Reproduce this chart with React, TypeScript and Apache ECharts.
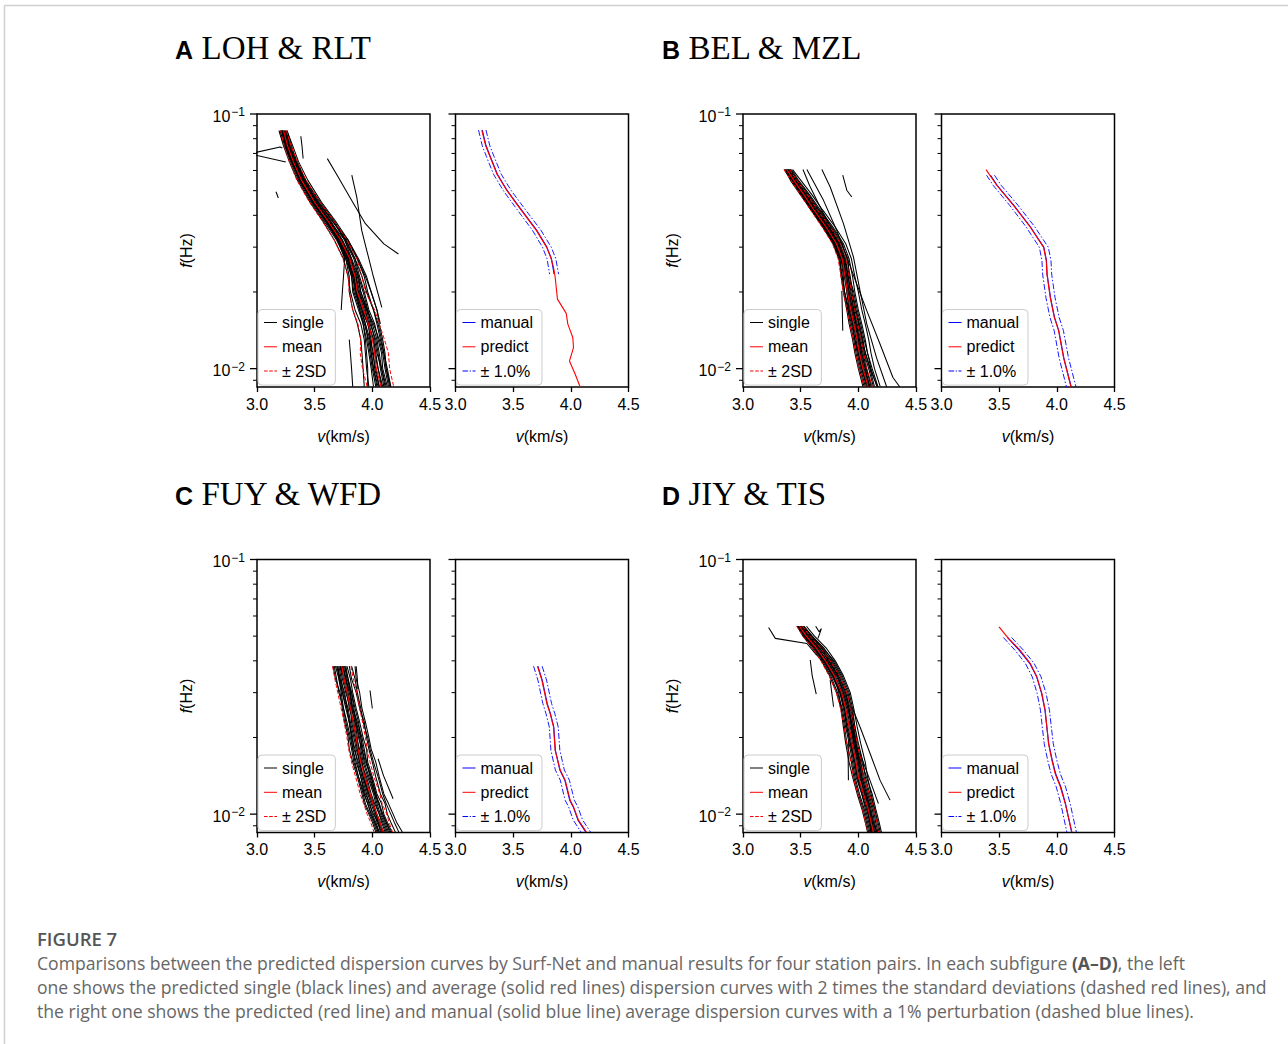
import { useEffect, useRef } from 'react';
import * as echarts from 'echarts';

// ---------------- axis / tick values ----------------
const vMin = 3.0;
const vMax = 4.5;
const vStep = 0.5;
const fMin = 0.00847;
const fMax = 0.1;
const yMajorTicks = [0.01, 0.1];
const yMinorTicks = [0.009, 0.02, 0.03, 0.04, 0.05, 0.06, 0.07, 0.08, 0.09];

// ---------------- text ----------------
const panelLetters = ['A', 'B', 'C', 'D'];
const stationPairs = ['LOH & RLT', 'BEL & MZL', 'FUY & WFD', 'JIY & TIS'];
const leftLegend = ['single', 'mean', '± 2SD'];
const rightLegend = ['manual', 'predict', '± 1.0%'];
const captionTitle = 'FIGURE 7';
const captionLines = [
  'Comparisons between the predicted dispersion curves by Surf-Net and manual results for four station pairs. In each subfigure {b|(A–D)}, the left',
  'one shows the predicted single (black lines) and average (solid red lines) dispersion curves with 2 times the standard deviations (dashed red lines), and',
  'the right one shows the predicted (red line) and manual (solid blue line) average dispersion curves with a 1% perturbation (dashed blue lines).',
];

// ---------------- Panel A: LOH & RLT ----------------
const fA = [0.086, 0.075, 0.065, 0.055, 0.045, 0.038, 0.032, 0.027, 0.023, 0.02, 0.017, 0.015, 0.013, 0.0115, 0.01, 0.0085];
const meanA = [3.23, 3.265, 3.315, 3.385, 3.5, 3.615, 3.725, 3.805, 3.85, 3.87, 3.925, 3.965, 4.0, 4.02, 4.035, 4.075];
const sdLowA = [3.205, 3.235, 3.28, 3.345, 3.455, 3.565, 3.67, 3.745, 3.79, 3.8, 3.83, 3.875, 3.9, 3.895, 3.915, 3.955];
const sdHighA = [3.255, 3.295, 3.35, 3.425, 3.545, 3.665, 3.78, 3.865, 3.91, 3.94, 4.02, 4.06, 4.105, 4.14, 4.15, 4.185];
const singlesA = [
  [3.2, 3.24, 3.29, 3.36, 3.47, 3.58, 3.69, 3.77, 3.82, 3.84, 3.89, 3.93, 3.97, 3.99, 4.01, 4.05],
  [3.21, 3.25, 3.3, 3.37, 3.49, 3.6, 3.71, 3.79, 3.84, 3.86, 3.91, 3.96, 3.99, 4.0, 4.03, 4.06],
  [3.24, 3.28, 3.34, 3.4, 3.52, 3.64, 3.74, 3.82, 3.88, 3.9, 3.95, 3.98, 4.03, 4.05, 4.07, 4.1],
  [3.25, 3.29, 3.35, 3.42, 3.54, 3.66, 3.77, 3.85, 3.89, 3.93, 3.97, 4.02, 4.05, 4.08, 4.09, 4.13],
  [3.22, 3.26, 3.31, 3.39, 3.51, 3.62, 3.73, 3.8, 3.86, 3.87, 3.92, 3.96, 4.01, 4.02, 4.05, 4.08],
  [3.19, 3.23, 3.28, 3.35, 3.46, 3.57, 3.67, 3.75, 3.79, 3.81, 3.85, 3.9, 3.93, 3.94, 3.95, 3.97],
  [3.26, 3.31, 3.36, 3.44, 3.56, 3.68, 3.79, 3.87, 3.93, 3.96, 4.01, 4.05, 4.08, 4.1, 4.12, 4.15],
  [3.23, 3.27, 3.32, 3.38, 3.48, 3.6, 3.7, 3.78, 3.83, 3.85, 3.9, 3.94, 3.98, 4.01, 4.02, 4.06],
  [3.24, 3.27, 3.33, 3.4, 3.51, 3.63, 3.76, 3.84, 3.88, 3.92, 3.96, 3.99, 4.02, 4.04, 4.08, 4.11],
  [3.21, 3.25, 3.3, 3.38, 3.5, 3.62, 3.74, 3.81, 3.85, 3.88, 3.93, 3.97, 4.01, 4.03, 4.05, 4.09],
  [3.22, 3.25, 3.31, 3.37, 3.48, 3.59, 3.7, 3.77, 3.8, 3.8, 3.83, 3.87, 3.9, 3.91, 3.92, 3.93],
  [3.25, 3.28, 3.33, 3.41, 3.53, 3.65, 3.78, 3.87, 3.94, 3.99, 4.04, 4.06, 4.09, 4.11, 4.12, 4.16],
  [3.22, 3.26, 3.31, 3.38, 3.49, 3.6, 3.7, 3.76, 3.75, 3.74, 3.73, null, null, null, null, null],
  [3.23, 3.28, 3.34, 3.42, 3.55, 3.67, 3.77, 3.85, 3.91, 3.95, 4.01, 4.04, 4.07, 4.1, 4.13, 4.16],
  [3.24, 3.28, 3.32, 3.38, 3.49, 3.61, 3.72, 3.8, 3.86, 3.89, 3.94, 3.97, 3.98, 3.99, 4.01, 4.04],
  [null, null, null, null, null, 3.66, 3.79, 3.88, 3.95, 3.99, 4.04, 4.07, null, null, null, null],
  [null, null, null, null, null, null, null, null, null, null, null, null, 3.8, 3.81, 3.82, 3.83],
  [3.2, 3.24, 3.3, 3.37, 3.49, 3.61, 3.73, 3.81, 3.87, 3.9, 3.96, 4.0, 4.04, 4.06, 4.08, 4.12],
  [3.22, 3.27, 3.33, 3.4, 3.52, 3.63, 3.73, 3.79, 3.83, 3.86, 3.91, 3.94, 3.96, 3.98, 4.0, 4.03],
  [3.26, 3.3, 3.34, 3.41, 3.51, 3.62, 3.71, 3.78, 3.82, 3.83, 3.88, 3.92, 3.94, 3.95, 3.96, 3.96],
  [3.21, 3.26, 3.32, 3.39, 3.5, 3.61, 3.72, 3.79, 3.84, 3.88, 3.95, 4.01, 4.06, 4.09, 4.11, 4.14],
  [3.23, 3.27, 3.32, 3.4, 3.53, 3.66, 3.76, 3.82, 3.85, 3.86, 3.89, 3.92, 3.95, 3.97, 3.99, 4.01],
];
const outliersA = [
  [[2.98, 0.0705], [3.2, 0.0742], [3.22, 0.0735]],
  [[2.98, 0.069], [3.25, 0.0648]],
  [[3.165, 0.0495], [3.185, 0.0468]],
  [[3.38, 0.0818], [3.39, 0.075], [3.4, 0.0669]],
  [[3.61, 0.0668], [3.7, 0.057], [3.82, 0.0458], [3.94, 0.0371], [4.1, 0.0309], [4.226, 0.0282]],
  [[3.822, 0.0575], [3.865, 0.0472], [3.908, 0.0349], [3.952, 0.0291], [4.01, 0.0229], [4.082, 0.0174]],
];
const fPredA = [0.0865, 0.075, 0.0679, 0.058, 0.0501, 0.045, 0.04, 0.035, 0.03, 0.027, 0.025, 0.0229, 0.01875, 0.01648, 0.01496, 0.01325, 0.0121, 0.01071, 0.0095, 0.00847];
const predictA = [3.228, 3.262, 3.3, 3.36, 3.445, 3.52, 3.604, 3.7, 3.79, 3.83, 3.85, 3.864, 3.884, 3.96, 3.974, 4.017, 4.023, 3.988, 4.038, 4.081];
const fManA = [0.0865, 0.075, 0.0679, 0.058, 0.0501, 0.045, 0.04, 0.035, 0.03, 0.027, 0.0235];
const manualA = [3.232, 3.265, 3.302, 3.363, 3.448, 3.523, 3.607, 3.703, 3.792, 3.832, 3.855];

// ---------------- Panel B: BEL & MZL ----------------
const fB = [0.0605, 0.055, 0.048, 0.042, 0.036, 0.031, 0.027, 0.023, 0.02, 0.017, 0.015, 0.013, 0.0115, 0.01, 0.0085];
const meanB = [3.38, 3.44, 3.53, 3.615, 3.72, 3.81, 3.86, 3.885, 3.905, 3.935, 3.96, 3.99, 4.01, 4.04, 4.085];
const sdLowB = [3.355, 3.415, 3.5, 3.585, 3.685, 3.775, 3.825, 3.85, 3.87, 3.9, 3.925, 3.955, 3.975, 4.005, 4.05];
const sdHighB = [3.405, 3.465, 3.56, 3.645, 3.755, 3.845, 3.895, 3.92, 3.94, 3.97, 3.995, 4.025, 4.045, 4.075, 4.12];
const singlesB = [
  [3.36, 3.42, 3.51, 3.59, 3.69, 3.78, 3.83, 3.86, 3.88, 3.91, 3.93, 3.96, 3.98, 4.01, 4.05],
  [3.37, 3.43, 3.52, 3.6, 3.71, 3.79, 3.85, 3.87, 3.88, 3.92, 3.95, 3.97, 4.0, 4.03, 4.07],
  [3.39, 3.45, 3.54, 3.63, 3.74, 3.83, 3.87, 3.9, 3.92, 3.95, 3.98, 4.0, 4.02, 4.05, 4.1],
  [3.4, 3.46, 3.55, 3.64, 3.75, 3.84, 3.89, 3.91, 3.94, 3.96, 3.99, 4.02, 4.05, 4.07, 4.12],
  [3.38, 3.44, 3.53, 3.61, 3.71, 3.8, 3.86, 3.88, 3.9, 3.93, 3.96, 3.99, 4.01, 4.04, 4.08],
  [3.41, 3.47, 3.57, 3.66, 3.77, 3.86, 3.9, 3.93, 3.95, 3.98, 4.01, 4.04, 4.06, 4.1, 4.14],
  [3.37, 3.42, 3.51, 3.6, 3.7, 3.79, 3.84, 3.85, 3.87, 3.9, 3.92, 3.95, 3.97, 4.0, 4.04],
  [3.39, 3.44, 3.53, 3.62, 3.73, 3.82, 3.87, 3.89, 3.91, 3.94, 3.97, 4.0, 4.03, 4.06, 4.1],
  [3.42, 3.48, 3.58, 3.67, 3.78, 3.87, 3.92, 3.95, 3.97, 4.0, 4.03, 4.06, 4.08, 4.11, 4.16],
  [3.38, 3.43, 3.52, 3.61, 3.72, 3.81, 3.86, 3.88, 3.91, 3.94, 3.96, 3.98, 4.0, 4.03, 4.08],
  [3.4, 3.45, 3.55, 3.63, 3.74, 3.83, 3.88, 3.91, 3.93, 3.96, 3.98, 4.01, 4.04, 4.07, 4.11],
  [3.36, 3.41, 3.5, 3.59, 3.7, 3.78, 3.84, 3.86, 3.88, 3.91, 3.94, 3.97, 3.99, 4.02, 4.06],
  [3.43, 3.5, 3.6, 3.69, 3.8, 3.89, 3.94, 3.97, 4.0, 4.03, 4.06, 4.09, 4.11, 4.14, 4.19],
  [3.39, 3.45, 3.54, 3.62, 3.73, 3.82, 3.87, 3.9, 3.92, 3.95, 3.98, 4.01, 4.03, 4.06, 4.09],
  [3.37, 3.44, 3.52, 3.62, 3.72, 3.8, 3.85, 3.89, 3.9, 3.92, 3.95, 3.99, 4.02, 4.04, 4.09],
  [3.41, 3.46, 3.56, 3.65, 3.76, 3.85, 3.91, 3.92, 3.94, 3.97, 4.0, 4.03, 4.05, 4.09, 4.13],
  [3.38, 3.45, 3.55, 3.65, 3.75, 3.83, 3.88, 3.92, 3.96, 3.99, 4.02, 4.05, 4.08, 4.12, 4.17],
];
const outliersB = [
  [[3.554, 0.0605], [3.698, 0.0458], [3.813, 0.0349], [3.9, 0.0274], [3.986, 0.0215], [4.073, 0.0169], [4.188, 0.0125], [4.3, 0.00923], [4.36, 0.00847]],
  [[3.684, 0.0605], [3.756, 0.0517], [3.871, 0.0371], [3.958, 0.0274], [4.015, 0.0202], [4.073, 0.015], [4.159, 0.011], [4.246, 0.00847]],
  [[3.865, 0.0575], [3.9, 0.0502], [3.943, 0.0472]],
  [[3.857, 0.0202], [3.861, 0.017], [3.865, 0.0141]],
  [[3.52, 0.0605], [3.58, 0.052], [3.67, 0.043], [3.76, 0.036], [3.84, 0.03], [3.9, 0.025], [3.94, 0.02], [3.99, 0.016], [4.05, 0.012], [4.12, 0.0095], [4.17, 0.00847]],
];
const fPredB = [0.0605, 0.0525, 0.0438, 0.036, 0.0328, 0.03, 0.0266, 0.0235, 0.019, 0.0159, 0.0141, 0.011, 0.00847];
const predictB = [3.386, 3.479, 3.624, 3.769, 3.827, 3.885, 3.908, 3.914, 3.943, 3.978, 4.015, 4.059, 4.123];
const fManB = [0.0575, 0.0525, 0.0438, 0.036, 0.0328, 0.03, 0.0266, 0.0235, 0.019, 0.0159, 0.0141, 0.011, 0.00847];
const manualB = [3.425, 3.482, 3.627, 3.772, 3.83, 3.887, 3.91, 3.916, 3.945, 3.98, 4.017, 4.061, 4.125];

// ---------------- Panel C: FUY & WFD ----------------
const fC = [0.0381, 0.034, 0.03, 0.026, 0.023, 0.02, 0.018, 0.016, 0.014, 0.012, 0.011, 0.01, 0.0093, 0.0085];
const meanC = [3.735, 3.755, 3.782, 3.81, 3.835, 3.86, 3.875, 3.9, 3.935, 3.98, 4.005, 4.04, 4.065, 4.095];
const sdLowC = [3.655, 3.675, 3.7, 3.73, 3.755, 3.78, 3.795, 3.82, 3.855, 3.895, 3.925, 3.955, 3.985, 4.015];
const sdHighC = [3.815, 3.835, 3.865, 3.89, 3.915, 3.94, 3.955, 3.98, 4.015, 4.065, 4.085, 4.125, 4.145, 4.175];
const singlesC = [
  [3.66, 3.68, 3.72, 3.74, 3.76, 3.79, 3.8, 3.83, 3.87, 3.91, 3.93, 3.97, 4.0, 4.03],
  [3.68, 3.71, 3.73, 3.75, 3.78, 3.81, 3.83, 3.85, 3.88, 3.93, 3.96, 3.99, 4.02, 4.06],
  [3.7, 3.72, 3.76, 3.78, 3.8, 3.83, 3.84, 3.88, 3.91, 3.95, 3.97, 4.01, 4.05, 4.07],
  [3.72, 3.74, 3.77, 3.81, 3.82, 3.85, 3.87, 3.89, 3.92, 3.97, 4.01, 4.03, 4.06, 4.1],
  [3.74, 3.77, 3.79, 3.82, 3.85, 3.87, 3.88, 3.9, 3.95, 3.99, 4.02, 4.06, 4.08, 4.11],
  [3.76, 3.78, 3.82, 3.84, 3.86, 3.9, 3.91, 3.93, 3.97, 4.02, 4.04, 4.07, 4.1, 4.13],
  [3.78, 3.81, 3.83, 3.86, 3.89, 3.92, 3.95, 3.96, 4.0, 4.04, 4.08, 4.1, 4.13, 4.17],
  [3.8, 3.82, 3.86, 3.89, 3.93, 3.95, 3.97, 4.0, 4.03, 4.07, 4.11, 4.13, 4.16, 4.2],
  [3.69, 3.72, 3.74, 3.78, 3.8, 3.82, 3.85, 3.87, 3.9, 3.94, 3.98, 4.0, 4.03, 4.06],
  [3.73, 3.75, 3.78, 3.8, 3.84, 3.86, 3.87, 3.91, 3.94, 3.98, 4.01, 4.04, 4.07, 4.09],
  [3.75, 3.77, 3.81, 3.82, 3.85, 3.89, 3.9, 3.92, 3.96, 4.01, 4.03, 4.06, 4.09, 4.12],
  [3.71, 3.73, 3.75, 3.79, 3.81, 3.84, 3.86, 3.89, 3.92, 3.96, 3.99, 4.02, 4.04, 4.08],
  [3.77, 3.79, 3.82, 3.85, 3.88, 3.9, 3.92, 3.95, 3.98, 4.02, 4.06, 4.08, 4.11, 4.14],
  [3.85, 3.86, 3.89, 3.91, 3.94, 3.97, 3.99, 4.03, 4.06, 4.1, 4.14, 4.18, 4.21, 4.26],
  [3.67, 3.69, 3.71, 3.75, 3.77, 3.8, 3.82, 3.84, 3.88, 3.92, 3.94, 3.98, 4.01, 4.04],
  [3.82, 3.85, 3.87, 3.9, 3.92, 3.96, 3.98, 4.01, 4.05, 4.09, 4.12, 4.16, 4.19, 4.23],
  [3.74, 3.77, 3.8, 3.83, 3.86, 3.88, 3.91, 3.94, 3.99, 4.03, 4.05, 4.09, 4.12, 4.15],
  [3.7, 3.71, 3.74, 3.77, 3.8, 3.82, 3.83, 3.86, 3.9, 3.93, 3.96, 3.99, 4.02, 4.05],
  [3.72, 3.76, 3.78, 3.81, 3.83, 3.86, 3.89, 3.91, 3.93, 3.97, 4.0, 4.03, 4.05, 4.09],
  [3.76, 3.79, 3.81, 3.83, 3.87, 3.91, 3.93, 3.95, 3.99, 4.03, 4.06, 4.09, 4.12, 4.16],
];
const outliersC = [
  [[3.98, 0.0306], [4.0, 0.026]],
  [[4.05, 0.0165], [4.096, 0.0142], [4.18, 0.0115]],
  [[3.86, 0.0381], [3.87, 0.034], [3.875, 0.031]],
];
const fPredC = [0.0381, 0.0336, 0.0272, 0.0248, 0.022, 0.0178, 0.0149, 0.0136, 0.01135, 0.0107, 0.00947, 0.0085];
const predictC = [3.711, 3.749, 3.792, 3.821, 3.85, 3.864, 3.908, 3.951, 3.994, 4.023, 4.066, 4.135];
const fManC = [0.0381, 0.0336, 0.0272, 0.0248, 0.022, 0.0178, 0.0149, 0.0136, 0.01135, 0.0107, 0.00947, 0.0085];
const manualC = [3.714, 3.752, 3.795, 3.823, 3.852, 3.866, 3.905, 3.948, 3.99, 4.02, 4.062, 4.13];

// ---------------- Panel D: JIY & TIS ----------------
const fD = [0.0547, 0.05, 0.045, 0.04, 0.035, 0.03, 0.026, 0.022, 0.019, 0.016, 0.014, 0.012, 0.0105, 0.0093, 0.0085];
const meanD = [3.49, 3.55, 3.635, 3.715, 3.79, 3.855, 3.89, 3.92, 3.945, 3.98, 4.0, 4.045, 4.085, 4.11, 4.13];
const sdLowD = [3.465, 3.52, 3.6, 3.675, 3.745, 3.81, 3.845, 3.875, 3.9, 3.935, 3.955, 3.995, 4.035, 4.06, 4.085];
const sdHighD = [3.515, 3.58, 3.67, 3.755, 3.835, 3.9, 3.935, 3.965, 3.99, 4.025, 4.045, 4.095, 4.135, 4.16, 4.175];
const singlesD = [
  [3.47, 3.52, 3.6, 3.68, 3.75, 3.81, 3.85, 3.88, 3.9, 3.94, 3.96, 4.0, 4.04, 4.07, 4.09],
  [3.48, 3.54, 3.62, 3.7, 3.77, 3.84, 3.87, 3.9, 3.93, 3.96, 3.98, 4.03, 4.07, 4.1, 4.11],
  [3.5, 3.56, 3.65, 3.73, 3.81, 3.87, 3.91, 3.94, 3.96, 4.0, 4.02, 4.06, 4.1, 4.12, 4.14],
  [3.51, 3.57, 3.66, 3.75, 3.83, 3.89, 3.93, 3.96, 3.98, 4.02, 4.04, 4.08, 4.12, 4.14, 4.16],
  [3.49, 3.55, 3.64, 3.72, 3.79, 3.85, 3.89, 3.92, 3.95, 3.98, 4.0, 4.04, 4.08, 4.11, 4.13],
  [3.52, 3.59, 3.68, 3.77, 3.84, 3.9, 3.94, 3.97, 4.0, 4.04, 4.06, 4.1, 4.14, 4.16, 4.18],
  [3.48, 3.53, 3.61, 3.69, 3.76, 3.82, 3.86, 3.89, 3.92, 3.95, 3.97, 4.01, 4.05, 4.08, 4.1],
  [3.5, 3.55, 3.63, 3.71, 3.78, 3.85, 3.88, 3.91, 3.94, 3.97, 3.99, 4.05, 4.09, 4.11, 4.12],
  [3.53, 3.6, 3.7, 3.78, 3.85, 3.91, 3.94, 3.96, 3.98, 4.01, 4.03, 4.07, 4.1, 4.13, 4.15],
  [3.49, 3.56, 3.64, 3.73, 3.8, 3.86, 3.9, 3.93, 3.96, 3.99, 4.01, 4.06, 4.09, 4.12, 4.14],
  [3.5, 3.57, 3.67, 3.74, 3.82, 3.88, 3.92, 3.95, 3.97, 4.01, 4.03, 4.07, 4.11, 4.13, 4.16],
  [3.47, 3.53, 3.62, 3.7, 3.78, 3.84, 3.88, 3.9, 3.93, 3.97, 3.99, 4.03, 4.06, 4.09, 4.11],
  [3.51, 3.58, 3.66, 3.76, 3.83, 3.89, 3.92, 3.94, 3.97, 4.0, 4.02, 4.05, 4.08, 4.1, 4.12],
  [3.52, 3.6, 3.68, 3.75, 3.82, 3.87, 3.91, 3.95, 3.98, 4.02, 4.05, 4.09, 4.13, 4.15, 4.17],
  [3.55, 3.62, 3.72, 3.8, 3.87, 3.93, 3.96, 3.99, 4.02, 4.06, 4.08, 4.11, 4.14, 4.17, 4.19],
  [null, null, null, 3.71, 3.79, 3.83, 3.85, 3.87, 3.89, 3.92, 3.95, 3.99, 4.03, 4.06, 4.08],
  [3.5, 3.58, 3.69, 3.79, 3.86, 3.92, 3.95, 3.97, 3.99, 4.03, 4.07, 4.12, 4.15, 4.18, 4.2],
];
const outliersD = [
  [[3.222, 0.0541], [3.28, 0.049], [3.554, 0.0468], [3.64, 0.042]],
  [[3.583, 0.0403], [3.6, 0.035], [3.635, 0.0296]],
  [[3.756, 0.0336], [3.785, 0.0264]],
  [[3.95, 0.026], [4.015, 0.022], [4.102, 0.0173], [4.188, 0.0136], [4.275, 0.01135]],
  [[4.015, 0.0173], [4.09, 0.014], [4.174, 0.011]],
  [[3.914, 0.0195], [3.912, 0.0165], [3.914, 0.0136]],
  [[3.63, 0.0547], [3.66, 0.052], [3.68, 0.0535], [3.65, 0.049]],
];
const fPredD = [0.0544, 0.049, 0.044, 0.0391, 0.0346, 0.0298, 0.0256, 0.022, 0.0189, 0.0163, 0.0144, 0.0128, 0.011, 0.0085];
const predictD = [3.499, 3.58, 3.682, 3.769, 3.827, 3.87, 3.899, 3.914, 3.928, 3.957, 3.986, 4.03, 4.073, 4.131];
const fManD = [0.0494, 0.044, 0.0391, 0.0346, 0.0298, 0.0256, 0.022, 0.0189, 0.0163, 0.0144, 0.0128, 0.011, 0.0085];
const manualD = [3.572, 3.675, 3.765, 3.825, 3.868, 3.897, 3.913, 3.93, 3.96, 3.99, 4.035, 4.075, 4.128];

// ---------------- layout (pixels) ----------------
const COL_LEFT = [257, 743];
const SUB_OFFSET = 198.5;
const ROW_TOP = [114, 559.5];
const PLOT_W = 173;
const PLOT_H = 273;
const TITLE_X = [175, 662];
const TITLE_Y = [50, 496];

const SANS = '"Liberation Sans", Arial, Helvetica, sans-serif';
const SERIF = '"Liberation Serif", "Times New Roman", serif';
const CAP = '"Open Sans", Lato, sans-serif';
const RED = '#ff0000';
const BLUE = '#0000ff';

// legend icons (13 x 1 line glyphs)
const ICON_SOLID = 'path://M0,0h13v1h-13z';
const ICON_DASH = 'path://M0,0h3.6v1h-3.6zM5.2,0h3.6v1h-3.6zM10.4,0h2.6v1h-2.6z';
const ICON_DASHDOT = 'path://M0,0h5.6v1h-5.6zM7.2,0h1.2v1h-1.2zM10,0h3v1h-3z';
const legendIcons: Record<string, string> = {
  single: ICON_SOLID, mean: ICON_SOLID, '± 2SD': ICON_DASH,
  manual: ICON_SOLID, predict: ICON_SOLID, '± 1.0%': ICON_DASHDOT,
};

const panels = [
  { freq: fA, mean: meanA, sdLow: sdLowA, sdHigh: sdHighA, singles: singlesA, outliers: outliersA, predF: fPredA, pred: predictA, manF: fManA, man: manualA },
  { freq: fB, mean: meanB, sdLow: sdLowB, sdHigh: sdHighB, singles: singlesB, outliers: outliersB, predF: fPredB, pred: predictB, manF: fManB, man: manualB },
  { freq: fC, mean: meanC, sdLow: sdLowC, sdHigh: sdHighC, singles: singlesC, outliers: outliersC, predF: fPredC, pred: predictC, manF: fManC, man: manualC },
  { freq: fD, mean: meanD, sdLow: sdLowD, sdHigh: sdHighD, singles: singlesD, outliers: outliersD, predF: fPredD, pred: predictD, manF: fManD, man: manualD },
];

function pairs(freq: number[], vel: (number | null)[]) {
  const out: number[][] = [];
  vel.forEach((v, i) => {
    if (v !== null && v !== undefined) out.push([v, freq[i]]);
  });
  return out;
}

function lineSeries(name: string, data: number[][], g: number, color: string, width: number, type: any, z: number) {
  return {
    type: 'line',
    name,
    data,
    xAxisIndex: g,
    yAxisIndex: g,
    symbol: 'none',
    showSymbol: false,
    silent: true,
    z,
    lineStyle: { color, width, type },
    itemStyle: { color },
    emphasis: { disabled: true },
  };
}

function tickSeries(g: number) {
  const data = [
    ...yMajorTicks.map((f) => [vMin, f, 1]),
    ...yMinorTicks.map((f) => [vMin, f, 0]),
  ];
  return {
    type: 'custom',
    name: 'yticks',
    xAxisIndex: g,
    yAxisIndex: g,
    silent: true,
    clip: false,
    z: 6,
    data,
    encode: { x: 0, y: 1 },
    renderItem: (_params: any, api: any) => {
      const p = api.coord([api.value(0), api.value(1)]);
      const major = api.value(2) === 1;
      const len = major ? 7 : 4;
      return {
        type: 'line',
        shape: { x1: p[0] - len, y1: p[1], x2: p[0], y2: p[1] },
        style: { stroke: '#000', lineWidth: major ? 1.3 : 1 },
      };
    },
  };
}

function yLabel(v: number) {
  const l = Math.log10(v);
  const r = Math.round(l);
  if (Math.abs(l - r) > 1e-6) return '';
  return '{b|10}{s|−' + Math.abs(r) + '}';
}

function buildOption() {
  const grids: any[] = [];
  const xAxes: any[] = [];
  const yAxes: any[] = [];
  const series: any[] = [];
  const legends: any[] = [];
  const graphics: any[] = [];

  panels.forEach((p, pi) => {
    const row = Math.floor(pi / 2);
    const col = pi % 2;
    [0, 1].forEach((sub) => {
      const g = pi * 2 + sub;
      const left = COL_LEFT[col] + sub * SUB_OFFSET;
      const top = ROW_TOP[row];
      grids.push({
        left, top, width: PLOT_W, height: PLOT_H,
        show: true, borderColor: '#000', borderWidth: 1.5,
        backgroundColor: 'transparent', containLabel: false,
        outerBoundsMode: 'none',
      });
      xAxes.push({
        gridIndex: g, type: 'value', min: vMin, max: vMax, interval: vStep,
        axisLine: { show: false },
        axisTick: { show: true, length: 5, lineStyle: { color: '#000', width: 1.3 } },
        splitLine: { show: false },
        axisLabel: { margin: 9, fontSize: 16, color: '#000', fontFamily: SANS, formatter: (v: number) => v.toFixed(1) },
        name: '{i|v}(km/s)', nameLocation: 'middle', nameGap: 41,
        nameTextStyle: {
          fontSize: 16, color: '#000', fontFamily: SANS,
          rich: { i: { fontStyle: 'italic', fontSize: 16, fontFamily: SANS, color: '#000' } },
        },
      });
      yAxes.push({
        gridIndex: g, type: 'log', logBase: 10, min: fMin, max: fMax,
        axisLine: { show: false },
        axisTick: { show: false },
        splitLine: { show: false },
        minorTick: { show: false },
        axisLabel: sub === 0 ? {
          show: true, margin: 12, color: '#000', fontFamily: SANS, formatter: yLabel,
          padding: [4, 0, 0, 0],
          rich: {
            b: { fontSize: 16, fontFamily: SANS, color: '#000', lineHeight: 20 },
            s: { fontSize: 12, fontFamily: SANS, color: '#000', lineHeight: 12, verticalAlign: 'top', padding: [0, 0, 0, 1] },
          },
        } : { show: false },
        name: sub === 0 ? '{i|f}(Hz)' : '',
        nameLocation: 'middle', nameGap: 63, nameRotate: 90,
        nameTextStyle: {
          fontSize: 16, color: '#000', fontFamily: SANS,
          rich: { i: { fontStyle: 'italic', fontSize: 16, fontFamily: SANS, color: '#000' } },
        },
      });

      if (sub === 0) {
        p.singles.forEach((s) => series.push(lineSeries('single', pairs(p.freq, s), g, '#000', 1.05, 'solid', 2)));
        p.outliers.forEach((o) => series.push(lineSeries('single', o, g, '#000', 1.05, 'solid', 2)));
        series.push(lineSeries('mean', pairs(p.freq, p.mean), g, RED, 1.1, 'solid', 3));
        series.push(lineSeries('± 2SD', pairs(p.freq, p.sdLow), g, RED, 1, [4, 2], 4));
        series.push(lineSeries('± 2SD', pairs(p.freq, p.sdHigh), g, RED, 1, [4, 2], 4));
      } else {
        series.push(lineSeries('manual', pairs(p.manF, p.man), g, BLUE, 1.1, 'solid', 2));
        series.push(lineSeries('predict', pairs(p.predF, p.pred), g, RED, 1.1, 'solid', 3));
        series.push(lineSeries('± 1.0%', pairs(p.manF, p.man.map((v) => v * 0.99)), g, BLUE, 0.9, [6, 2, 1.5, 2], 4));
        series.push(lineSeries('± 1.0%', pairs(p.manF, p.man.map((v) => v * 1.01)), g, BLUE, 0.9, [6, 2, 1.5, 2], 4));
      }
      series.push(tickSeries(g));

      const names = sub === 0 ? leftLegend : rightLegend;
      legends.push({
        left: left + 1, top: top + 195.5, orient: 'vertical',
        itemWidth: 13, itemHeight: 1.2, itemGap: 6.3,
        padding: [4, 9, 5, 6],
        borderColor: '#cccccc', borderWidth: 1, borderRadius: 4,
        backgroundColor: 'rgba(255,255,255,0.8)',
        selectedMode: false,
        itemStyle: { borderWidth: 0 },
        textStyle: { fontSize: 16, fontFamily: SANS, color: '#000', lineHeight: 18 },
        data: names.map((n) => ({ name: n, icon: legendIcons[n] })),
        z: 20,
      });
    });

    graphics.push({
      type: 'text', x: TITLE_X[col], y: TITLE_Y[row],
      style: { text: panelLetters[pi], fontSize: 25, fontWeight: 'bold', fontFamily: SANS, fill: '#000', verticalAlign: 'middle', align: 'left' },
    });
    graphics.push({
      type: 'text', x: TITLE_X[col] + 26.5, y: TITLE_Y[row] - 2.1,
      style: { text: stationPairs[pi], fontSize: 33, fontFamily: SERIF, fill: '#000', verticalAlign: 'middle', align: 'left' },
    });
  });

  // frame lines
  graphics.push({ type: 'line', shape: { x1: 4, y1: 5.5, x2: 1288, y2: 5.5 }, style: { stroke: '#d0d0d0', lineWidth: 1.5 } });
  graphics.push({ type: 'line', shape: { x1: 4.5, y1: 5, x2: 4.5, y2: 1044 }, style: { stroke: '#d0d0d0', lineWidth: 1.5 } });

  // caption
  graphics.push({
    type: 'text', x: 37, y: 938,
    style: { text: captionTitle, fontSize: 18.5, fontWeight: 600, fontFamily: CAP, fill: '#555555', verticalAlign: 'middle' },
  });
  captionLines.forEach((t, i) => {
    graphics.push({
      type: 'text', x: 37, y: 963 + i * 24,
      style: {
        text: t, fontSize: 17.6, fontFamily: CAP, fill: '#666666', verticalAlign: 'middle',
        rich: { b: { fontWeight: 'bold', fontSize: 17.6, fontFamily: CAP, fill: '#555555' } },
      },
    });
  });

  return {
    animation: false,
    backgroundColor: '#ffffff',
    grid: grids,
    xAxis: xAxes,
    yAxis: yAxes,
    series,
    legend: legends,
    graphic: graphics,
  };
}

export default function App() {
  const ref = useRef<HTMLDivElement>(null);
  useEffect(() => {
    const chart = echarts.init(ref.current!, null, { renderer: 'svg' });
    chart.setOption(buildOption() as any);
    return () => chart.dispose();
  }, []);
  return (
    <div
      ref={ref}
      style={{ position: 'absolute', left: 0, top: 0, width: 1288, height: 1044, background: '#fff' }}
    />
  );
}
